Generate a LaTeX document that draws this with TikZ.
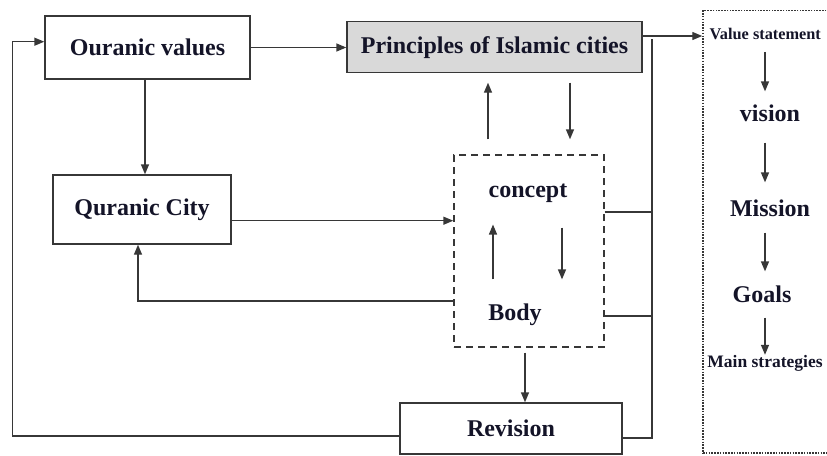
\documentclass[tikz,border=0pt]{standalone}
\usepackage{fontspec}
\setmainfont{Liberation Serif}
\usetikzlibrary{arrows.meta}
\definecolor{inkline}{RGB}{55,55,55}
\definecolor{inktext}{RGB}{20,20,40}
\definecolor{headfill}{RGB}{217,217,217}

\begin{document}
\begin{tikzpicture}[
  x=1pt, y=-1pt,
  box/.style={rectangle, draw=inkline, line width=1.4pt, font=\fontsize{24}{28}\selectfont\bfseries, text=inktext, inner sep=0pt},
  stage/.style={font=\fontsize{24}{28}\selectfont\bfseries, text=inktext, inner sep=0pt},
  smallstage/.style={stage, font=\fontsize{17.5}{20}\selectfont\bfseries},
  arrow/.style={-{Triangle[length=10pt,width=8pt]}, line width=1.4pt, draw=inkline},
  link/.style={line width=1.4pt, draw=inkline}
]
\useasboundingbox (0,0) rectangle (827,455);
\clip (0,0) rectangle (827,455);

% Left column
\node[box, minimum width=205pt, minimum height=63pt] (qvalues) at (147.5,47.5) {Ouranic values};
\node[box, minimum width=178pt, minimum height=69pt] (qcity) at (142,209.5) {Quranic City};

% Principles on top
\node[box, fill=headfill, minimum width=295pt, minimum height=51pt] (principles) at (494.5,47.2) {Principles of Islamic cities};

% Concept / body (dashed)
\node[box, dash pattern=on 7pt off 5pt, minimum width=150pt, minimum height=192pt] (core) at (529,251) {};
\node[stage] (concept) at (528,193) {concept};
\node[stage] (body) at (515,315) {Body};

% Revision
\node[box, minimum width=222pt, minimum height=51pt] (revision) at (511,428.5) {Revision};

% Planning column (dotted)
\node[draw=inkline, line width=1.5pt, dash pattern=on 1.5pt off 1.3pt, minimum width=140pt, minimum height=442.5pt] (plan) at (773,231.75) {};
\node[smallstage, anchor=west, font=\fontsize{16.3}{19}\selectfont\bfseries] (valstmt) at (709.5,34) {Value statement};
\node[stage] (vision) at (770,113) {vision};
\node[stage] (mission) at (770,208) {Mission};
\node[stage] (goals) at (762,294) {Goals};
\node[smallstage] (mainstr) at (765,363) {Main strategies};

% Arrows
\draw[arrow] (qvalues.east) -- (qvalues.east -| principles.west);
\draw[arrow] ([xshift=-2.5pt]qvalues.south) -- ([xshift=3pt]qcity.north);
\draw[arrow] ([yshift=-11.2pt]qcity.east) -- ([yshift=30.3pt]core.west);
\draw[arrow] ([yshift=-50pt]core.west) -| ([xshift=-4pt]qcity.south);
\draw[arrow, shorten <=15pt, shorten >=9.3pt] ([xshift=-41pt]core.north) -- ([xshift=-6.5pt]principles.south);
\draw[arrow, shorten <=9.3pt, shorten >=15pt] ([xshift=75.5pt]principles.south) -- ([xshift=41pt]core.north);
\draw[arrow, shorten <=24.5pt, shorten >=22pt] ([xshift=-22pt]body.north) -- ([xshift=-35pt]concept.south);
\draw[arrow, shorten <=25pt, shorten >=24.5pt] ([xshift=34pt]concept.south) -- ([xshift=47pt]body.north);
\draw[arrow, shorten <=5pt] ([xshift=-4pt]core.south) -- ([xshift=14pt]revision.north);

% Bus to the plan
\coordinate (bustop) at (652,39);
\draw[arrow] ([yshift=11.2pt]principles.east) -- ([yshift=195.75pt]plan.west);
\draw[link] ([yshift=39pt]core.east) -| (bustop);
\draw[link] ([yshift=-65pt]core.east) -| (bustop);
\draw[link] ([yshift=-9.5pt]revision.east) -| (bustop);

% Feedback loop
\coordinate (fb) at (12.7,41.7);
\draw[arrow] ([yshift=-7.5pt]revision.west) -| (fb) -- ([yshift=5.8pt]qvalues.west);

% Plan steps
\draw[arrow, shorten <=12pt, shorten >=13pt] (valstmt.south -| mainstr) -- (vision.north -| mainstr);
\draw[arrow, shorten <=21pt, shorten >=17pt] (vision.south -| mainstr) -- (mission.north -| mainstr);
\draw[arrow, shorten <=16pt, shorten >=14pt] (mission.south -| mainstr) -- (goals.north -| mainstr);
\draw[arrow, shorten <=15pt] (goals.south -| mainstr) -- (mainstr.north);

\end{tikzpicture}
\end{document}
